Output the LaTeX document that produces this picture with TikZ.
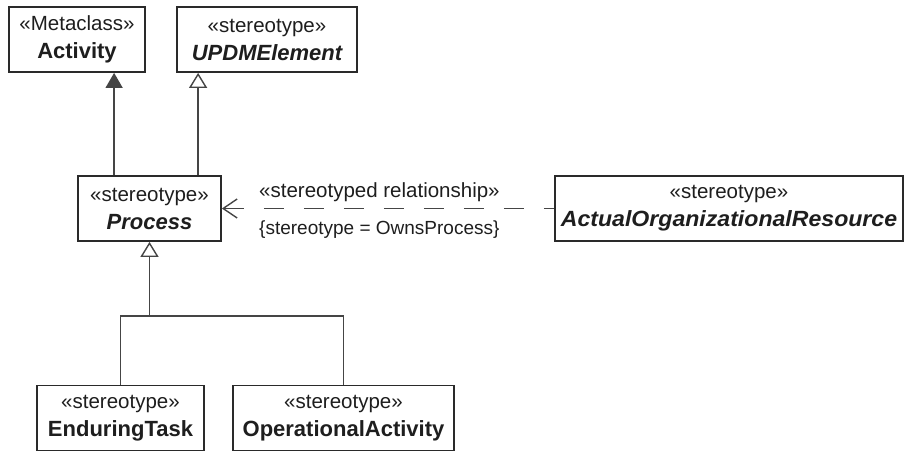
\documentclass[tikz,border=0pt]{standalone}
\usepackage{fontspec}
\setmainfont{Liberation Sans}
\usetikzlibrary{arrows.meta}
\definecolor{ink}{HTML}{1E1E1E}
\definecolor{edge}{HTML}{2A2A2A}
\definecolor{wire}{HTML}{454545}
\newcommand{\regf}{\fontsize{20.5}{28}\selectfont}
\newcommand{\nmf}{\fontsize{22}{28}\selectfont\bfseries}
\tikzset{
  umlbox/.style={draw=edge, line width=1.8pt, fill=white, inner sep=0pt,
    minimum height=65pt, align=center, text=ink, font=\regf},
  lbl/.style={inner sep=0pt, text=ink, font=\regf},
  conn/.style={draw=wire, line width=1.4pt},
  genopen/.style={conn, -{Triangle[open, length=15pt, width=18pt, fill=white]}},
  genfill/.style={conn, -{Triangle[length=15pt, width=17pt]}, fill=wire},
  dep/.style={conn, dash pattern=on 20pt off 20pt,
    {Straight Barb[length=14pt, width=19pt, line width=1.4pt]}-}
}
\begin{document}
\begin{tikzpicture}[x=1pt, y=-1pt]
\useasboundingbox (0,0) rectangle (909,453);

\node[umlbox, minimum width=136pt] (act) at (77,39.5) {«Metaclass»\\{\nmf Activity}};
\node[umlbox, minimum width=180pt] (updm) at (267,39.5) {«stereotype»\\{\nmf\itshape UPDMElement}};
\node[umlbox, minimum width=143pt] (proc) at (149.5,208.5) {«stereotype»\\{\nmf\itshape Process}};
\node[umlbox, minimum width=348pt] (aor) at (729,208.5) {«stereotype»\\{\nmf\itshape\scalebox{1.05}[1]{ActualOrganizationalResource}}};
\node[umlbox, minimum width=167pt] (et) at (120.5,418) {«stereotype»\\{\nmf EnduringTask}};
\node[umlbox, minimum width=221pt] (oa) at (343.5,418) {«stereotype»\\{\nmf OperationalActivity}};

% generalizations to Activity and UPDMElement
\path (proc.north west) ++(37,0) coordinate (p1);
\path (proc.north west) ++(121,0) coordinate (p2);
\draw[genfill] (p1) -- (p1 |- act.south);
\draw[genopen] (p2) -- (p2 |- updm.south);

% generalization tree below Process
\path (proc.south) ++(0,74) coordinate (j);
\draw[conn] (et.north) -- (et.north |- j) -- (oa.north |- j) -- (oa.north);
\draw[genopen] (j) -- (proc.south);

% stereotyped relationship
\draw[dep] (proc.east) -- (aor.west);
\node[lbl, anchor=west] (rel) at (259,192) {«stereotyped relationship»};
\node[lbl, anchor=west, font=\fontsize{19}{24}\selectfont] (cons) at (259,230) {\{stereotype = OwnsProcess\}};
\end{tikzpicture}
\end{document}
